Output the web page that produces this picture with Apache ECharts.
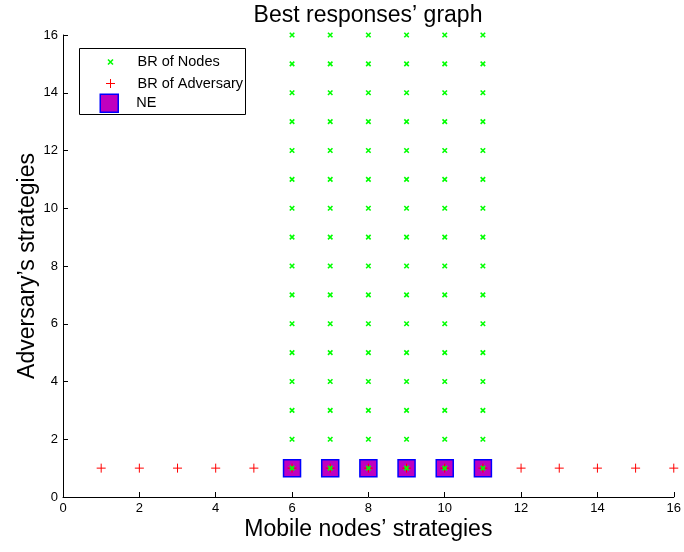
<!DOCTYPE html>
<html>
<head>
<meta charset="utf-8">
<script src="https://cdn.jsdelivr.net/npm/echarts@6/dist/echarts.min.js"></script>
<style>html,body{margin:0;padding:0;background:#fff}#c{width:684px;height:552px}</style>
</head>
<body>
<div id="c"></div>
<script>
const titleText = "Best responses\u2019 graph";
const xName = "Mobile nodes\u2019 strategies";
const yName = "Adversary\u2019s strategies";
const seriesNames = ["BR of Nodes", "BR of Adversary", "NE"];
const xTicks = [0, 2, 4, 6, 8, 10, 12, 14, 16];
const yTicks = [0, 2, 4, 6, 8, 10, 12, 14, 16];
// Best responses of nodes: for every adversary strategy, nodes' strategies 6..11
const nodesX = [6, 7, 8, 9, 10, 11];
const nodesY = [1, 2, 3, 4, 5, 6, 7, 8, 9, 10, 11, 12, 13, 14, 15, 16];
// Best responses of adversary: strategy 1 for every nodes' strategy
const advX = [1, 2, 3, 4, 5, 6, 7, 8, 9, 10, 11, 12, 13, 14, 15, 16];
const advY = [1, 1, 1, 1, 1, 1, 1, 1, 1, 1, 1, 1, 1, 1, 1, 1];
// Nash equilibria
const neX = [6, 7, 8, 9, 10, 11];
const neY = [1, 1, 1, 1, 1, 1];

const nodesData = [];
nodesY.forEach(y => nodesX.forEach(x => nodesData.push([x, y])));
const advData = advX.map((x, i) => [x, advY[i]]);
const neData = neX.map((x, i) => [x, neY[i]]);

const FONT = "Liberation Sans";
const crossPath = 'path://M0 0L10 10M10 0L0 10';
const plusPath = 'path://M5 0L5 10M0 5L10 5';
const GREEN = '#00ff00', RED = '#ff0000', MAG = '#bf00bf', BLUE = '#0000ff';

function axisCommon(name, gap, ticks) {
  return {
    type: 'value', min: ticks[0], max: ticks[ticks.length - 1], interval: ticks[1] - ticks[0],
    name: name, nameLocation: 'middle', nameGap: gap, nameMoveOverlap: false,
    nameTextStyle: { fontFamily: FONT, fontSize: 23, color: '#000' },
    axisLine: { show: true, onZero: false, lineStyle: { color: '#000', width: 1 } },
    axisTick: { show: true, inside: true, length: 5, lineStyle: { color: '#000' } },
    axisLabel: { fontFamily: FONT, fontSize: 13, color: '#000', margin: 5 },
    splitLine: { show: false }
  };
}

const legendText = { fontFamily: FONT, fontSize: 14.5, color: '#000' };
function legendAt(name, left, top, h, icon, style) {
  return {
    show: true, orient: 'vertical', left: left, top: top, padding: 0,
    itemWidth: 44, itemHeight: h, selectedMode: false, z: 10,
    textStyle: legendText,
    data: [{ name: name, icon: icon, itemStyle: style }]
  };
}

const chart = echarts.init(document.getElementById('c'), null, { renderer: 'canvas' });
chart.setOption({
  backgroundColor: '#fff',
  animation: false,
  title: {
    text: titleText, left: 368, top: 4, padding: 0, textAlign: 'center',
    textStyle: { fontFamily: FONT, fontSize: 23, fontWeight: 'normal', color: '#000' }
  },
  grid: { left: 63, right: 10, top: 35, bottom: 55, containLabel: false },
  xAxis: axisCommon(xName, 21, xTicks),
  yAxis: axisCommon(yName, 24, yTicks),
  legend: [
    legendAt(seriesNames[0], 105.5, 54.5, 5, crossPath, { color: 'none', borderColor: GREEN, borderWidth: 1.6 }),
    legendAt(seriesNames[1], 103.5, 76, 9, plusPath, { color: 'none', borderColor: RED, borderWidth: 1 }),
    legendAt(seriesNames[2], 99.5, 93.5, 18, 'path://M0 0L10 0L10 10L0 10Z', { color: MAG, borderColor: BLUE, borderWidth: 1.5 })
  ],
  graphic: [{
    type: 'rect', z: 5, silent: true,
    shape: { x: 79.5, y: 48.5, width: 166, height: 66 },
    style: { fill: '#fff', stroke: '#000', lineWidth: 1 }
  }],
  series: [
    {
      name: seriesNames[2], type: 'scatter', data: neData, z: 2,
      symbol: 'rect', symbolSize: 17,
      itemStyle: { color: MAG, borderColor: BLUE, borderWidth: 1.5, opacity: 1 }
    },
    {
      name: seriesNames[1], type: 'scatter', data: advData, z: 3,
      symbol: plusPath, symbolSize: 9,
      itemStyle: { color: 'none', borderColor: RED, borderWidth: 1, opacity: 1 }
    },
    {
      name: seriesNames[0], type: 'scatter', data: nodesData, z: 4,
      symbol: crossPath, symbolSize: 4.5,
      itemStyle: { color: 'none', borderColor: GREEN, borderWidth: 1.6, opacity: 1 }
    }
  ]
});
</script>
</body>
</html>
